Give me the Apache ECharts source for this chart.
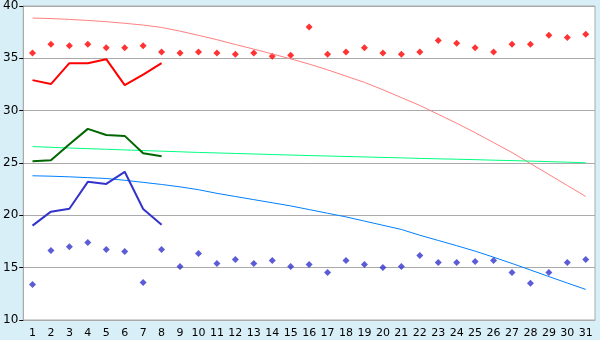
<!DOCTYPE html>
<html><head><meta charset="utf-8">
<script src="https://cdn.jsdelivr.net/npm/echarts@6/dist/echarts.min.js"></script>
<style>html,body{margin:0;padding:0;background:#d9eff8;}#c{width:600px;height:340px;}</style>
</head><body><div id="c"></div>
<script>
const days = Array.from({length:31},(_, i) => String(i+1));
const yTicks = [10, 15, 20, 25, 30, 35, 40];
const recordMax = [35.5,36.35,36.2,36.35,36.0,36.0,36.2,35.6,35.5,35.6,35.5,35.4,35.5,35.2,35.3,38.0,35.4,35.6,36.0,35.5,35.4,35.6,36.7,36.45,36.0,35.6,36.35,36.35,37.2,37.0,37.3];
const recordMin = [13.4,16.64,17.0,17.4,16.73,16.54,13.59,16.73,15.11,16.35,15.4,15.78,15.4,15.69,15.11,15.3,14.54,15.69,15.3,15.02,15.11,16.16,15.49,15.49,15.59,15.69,14.54,13.5,14.54,15.49,15.78];
const obsMax = [32.92,32.54,34.54,34.54,34.92,32.44,33.45,34.54];
const obsMean = [25.17,25.27,26.8,28.26,27.68,27.59,25.94,25.65];
const obsMin = [19.02,20.35,20.63,23.2,23.0,24.16,20.6,19.1];
const normMax = [38.85,38.8,38.72,38.62,38.5,38.35,38.18,37.95,37.6,37.2,36.78,36.32,35.88,35.42,34.95,34.45,33.9,33.3,32.7,32.0,31.25,30.5,29.65,28.8,27.9,26.95,26.0,24.95,23.9,22.85,21.8];
const normMean = [26.57,26.5,26.43,26.37,26.31,26.25,26.19,26.13,26.07,26.01,25.96,25.91,25.86,25.81,25.76,25.71,25.67,25.62,25.58,25.53,25.49,25.44,25.40,25.36,25.32,25.27,25.23,25.18,25.13,25.08,25.02];
const normMin = [23.78,23.74,23.68,23.6,23.52,23.35,23.15,22.95,22.72,22.45,22.1,21.8,21.5,21.2,20.9,20.55,20.2,19.85,19.45,19.05,18.65,18.1,17.6,17.1,16.58,16.0,15.4,14.78,14.15,13.53,12.92];

const chart = echarts.init(document.getElementById('c'));
const font = 'DejaVu Sans';
chart.setOption({
  animation: false,
  backgroundColor: '#d9eff8',
  grid: {left: 20, right: 5, top: 5, bottom: 20, show: true, backgroundColor: '#ffffff', borderColor: '#aaaaaa', borderWidth: 1},
  xAxis: {
    type: 'category', data: days, boundaryGap: true,
    axisLine: {lineStyle: {color: '#aaaaaa'}},
    axisTick: {alignWithLabel: true, length: 5, lineStyle: {color: '#000000'}},
    axisLabel: {color: '#000', fontFamily: font, fontSize: 11, margin: 8, interval: 0},
    splitLine: {show: false}
  },
  yAxis: {
    type: 'value', min: yTicks[0], max: yTicks[yTicks.length-1], interval: 5,
    axisLine: {show: true, lineStyle: {color: '#aaaaaa'}},
    axisTick: {show: true, length: 4, lineStyle: {color: '#000000'}},
    axisLabel: {color: '#000', fontFamily: font, fontSize: 12, margin: 5},
    splitLine: {lineStyle: {color: '#aaaaaa', width: 1}}
  },
  series: [
    {type: 'line', data: normMax, showSymbol: false, lineStyle: {color: '#ff8080', width: 1}, silent: true},
    {type: 'line', data: normMean, showSymbol: false, lineStyle: {color: '#00ff80', width: 1}, silent: true},
    {type: 'line', data: normMin, showSymbol: false, lineStyle: {color: '#0080ff', width: 1}, silent: true},
    {type: 'line', data: obsMax, showSymbol: false, lineStyle: {color: '#ff0000', width: 2}},
    {type: 'line', data: obsMean, showSymbol: false, lineStyle: {color: '#006600', width: 2}},
    {type: 'line', data: obsMin, showSymbol: false, lineStyle: {color: '#3333cc', width: 2}},
    {type: 'scatter', data: recordMax, symbol: 'diamond', symbolSize: 7, itemStyle: {color: '#ff0000'}},
    {type: 'scatter', data: recordMin, symbol: 'diamond', symbolSize: 7, itemStyle: {color: '#3333cc'}}
  ]
});
</script></body></html>
